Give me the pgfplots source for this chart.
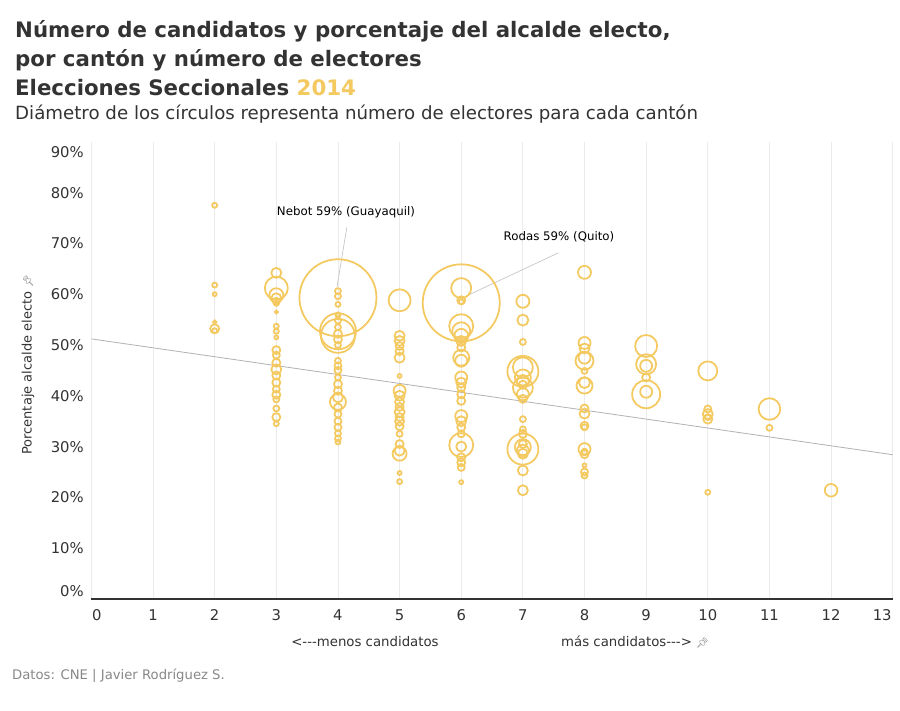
\documentclass[border=0pt]{standalone}
\usepackage{fontspec}
\setmainfont{DejaVu Sans}
\newfontfamily\emoji{Noto Emoji}
\usepackage{pgfplots}
\pgfplotsset{compat=1.18}
\usepackage{pgfplotstable}
\definecolor{bub}{RGB}{243,201,96}
\definecolor{txt}{HTML}{333333}
\definecolor{gridc}{HTML}{EBEBEB}
\definecolor{srcc}{HTML}{888888}

\pgfplotstableread{
x y r
2 77.5 2.5
2 61.8 2.5
2 60.0 2
2 54.5 1.8
2 53.2 4.5
2 52.8 2.5
3 64.2 5
3 61.2 11.5
3 59.8 7
3 59.2 5
3 58.6 3.5
3 58.2 2.5
3 56.5 1.5
3 53.7 2.5
3 52.7 2.5
3 51.5 2
3 49.0 4
3 48.0 3.5
3 46.5 4
3 45.2 5
3 44.0 4
3 42.6 4
3 41.3 3.5
3 40.2 4
3 39.3 3
3 37.5 3
3 35.8 4
3 34.5 2.5
4 59.3 38.5
4 60.6 3
4 59.6 3
4 58.0 2.5
4 56.0 2
4 55.9 2.5
4 54.8 3
4 52.7 18
4 51.8 17
4 53.5 3
4 52.2 4
4 51.1 4
4 50.0 3
4 46.9 3
4 45.9 3.5
4 45.0 3.5
4 43.6 3
4 42.3 4
4 41.0 4
4 39.7 5
4 38.8 8
4 37.7 4
4 36.4 3.5
4 35.0 3.5
4 33.8 3.5
4 32.6 3
4 31.6 3
4 30.9 2.5
5 58.8 11
5 51.8 5
5 50.8 5
5 49.8 4
5 48.8 4
5 47.5 5
5 43.9 2
5 41.0 6
5 40.0 5
5 38.8 4.5
5 37.8 4
5 36.8 5
5 35.8 4
5 35.0 4.5
5 34.0 4
5 32.5 3
5 30.5 4
5 29.2 5
5 28.6 7
5 24.8 2
5 23.1 2.5
6 58.3 38.5
6 61.2 10
6 58.8 4
6 58.5 2.5
6 53.7 12
6 52.7 9
6 51.8 7
6 50.8 5
6 49.5 4
6 47.5 8
6 46.9 6
6 43.6 6
6 42.6 5
6 41.6 4
6 40.3 4
6 39.0 4
6 36.0 6
6 35.0 5
6 33.8 4
6 32.5 3.5
6 30.3 12
6 30.0 5
6 27.9 4
6 26.9 4
6 25.9 3.5
6 23.0 2
7 58.6 6.5
7 54.9 5.5
7 50.6 3
7 44.8 15.5
7 45.6 10
7 43.6 8
7 42.9 6
7 42.2 4
7 41.6 10
7 40.3 6
7 39.4 4
7 35.4 3
7 33.4 3
7 32.5 4
7 29.5 15.5
7 29.9 8
7 29.2 6
7 28.6 5
7 30.5 4
7 25.3 5
7 21.4 5
8 64.3 6.5
8 50.4 6
8 49.3 5
8 47.5 6
8 46.9 9
8 44.9 3
8 42.6 5.5
8 42.0 8
8 37.5 4
8 36.5 5
8 34.1 4
8 33.8 3
8 29.5 6
8 29.0 3
8 28.5 4
8 26.3 2
8 25.0 3.5
8 24.3 3
9 49.8 11
9 46.2 10
9 45.9 6
9 43.6 4
9 40.3 14
9 40.8 6
10 44.9 9.5
10 37.4 3.5
10 36.4 5
10 35.8 3
10 35.4 4.5
10 21.0 2.5
11 37.4 10.8
11 33.7 3
12 21.4 6.3
}\cantones

\begin{document}
\begin{tikzpicture}
\path[use as bounding box] (0,0) rectangle (900pt,711pt);
\fill[white] (0,0) rectangle (900pt,711pt);
% titles
\node[anchor=base west, inner sep=0pt, text=txt, font=\fontsize{21.3pt}{25pt}\selectfont\bfseries] at (15pt,673.7pt) {Número de candidatos y porcentaje del alcalde electo,};
\node[anchor=base west, inner sep=0pt, text=txt, font=\fontsize{21.3pt}{25pt}\selectfont\bfseries] at (15pt,644.3pt) {por cantón y número de electores};
\node[anchor=base west, inner sep=0pt, text=txt, font=\fontsize{21.3pt}{25pt}\selectfont\bfseries] at (15pt,615pt) {Elecciones Seccionales \textcolor{bub}{2014}};
\node[anchor=base west, inner sep=0pt, text=txt, font=\fontsize{18.2pt}{22pt}\selectfont] at (15pt,591.7pt) {Diámetro de los círculos representa número de electores para cada cantón};

\begin{axis}[
  at={(91.4pt,112pt)}, anchor=south west,
  scale only axis, width=801.3pt, height=457.2pt,
  xmin=0, xmax=13, ymin=0, ymax=90,
  clip=false,
  axis x line*=bottom, axis y line*=left,
  x axis line style={draw=txt, line width=1.3pt, -},
  y axis line style={draw=none},
  major tick length=0pt,
  xtick={0,...,13},
  xticklabels={,1,2,3,4,5,6,7,8,9,10,11,12,},
  extra x ticks={0.09,12.83},
  extra x tick labels={0,13},
  extra x tick style={grid=none},
  xmajorgrids, grid style={draw=gridc, line width=0.9pt},
  ytick={10,20,...,80},
  yticklabels={10\%,20\%,30\%,40\%,50\%,60\%,70\%,80\%},
  extra y ticks={1.57,88},
  extra y tick labels={0\%,90\%},
  extra y tick style={grid=none},
  ymajorgrids=false,
  xticklabel style={anchor=base, inner sep=0pt, yshift=-21.5pt, text=txt, font=\fontsize{14.8pt}{16pt}\selectfont},
  yticklabel style={anchor=base east, inner sep=0pt, xshift=-7.5pt, yshift=-5.5pt, text=txt, font=\fontsize{14.8pt}{16pt}\selectfont},
]
\addplot[draw=black!30, line width=0.8pt, no marks] coordinates {(0,51.2) (13,28.4)};
\addplot[only marks, scatter, mark=o, line width=1.75pt,
  scatter/use mapped color={draw=bub, fill=none},
  visualization depends on={\thisrow{r}\as\rr},
  scatter/@pre marker code/.append style={/tikz/mark size=\rr pt}]
  table[x=x, y=y] {\cantones};
\draw[black!22, line width=0.7pt] (axis cs:4.145,73.2) -- (axis cs:3.984,61.4);
\draw[black!22, line width=0.7pt] (axis cs:7.57,68.1) -- (axis cs:6.11,59.8);
\node[text=black, font=\fontsize{11.8pt}{13pt}\selectfont, inner sep=0pt] at (axis cs:4.13,76.2) {Nebot 59\% (Guayaquil)};
\node[text=black, font=\fontsize{11.8pt}{13pt}\selectfont, inner sep=0pt] at (axis cs:7.586,71.26) {Rodas 59\% (Quito)};
\end{axis}

% axis labels
\node[rotate=90, anchor=west, inner sep=0pt, text=txt, font=\fontsize{13pt}{15pt}\selectfont] at (28pt,256pt) {Porcentaje alcalde electo {\color{black!55}\fontsize{10pt}{10pt}\emoji 📌}};
\node[anchor=center, inner sep=0pt, text=txt, font=\fontsize{13.3pt}{15pt}\selectfont] at (365pt,69pt) {<{-}{-}{-}menos candidatos};
\node[anchor=west, inner sep=0pt, text=txt, font=\fontsize{13.3pt}{15pt}\selectfont] at (561pt,69pt) {más candidatos{-}{-}{-}> {\color{black!55}\fontsize{10pt}{10pt}\emoji 📌}};
\node[anchor=west, inner sep=0pt, text=srcc, font=\fontsize{13.2pt}{15pt}\selectfont] at (12pt,35pt) {Datos: CNE | Javier Rodríguez S.};
\end{tikzpicture}
\end{document}
